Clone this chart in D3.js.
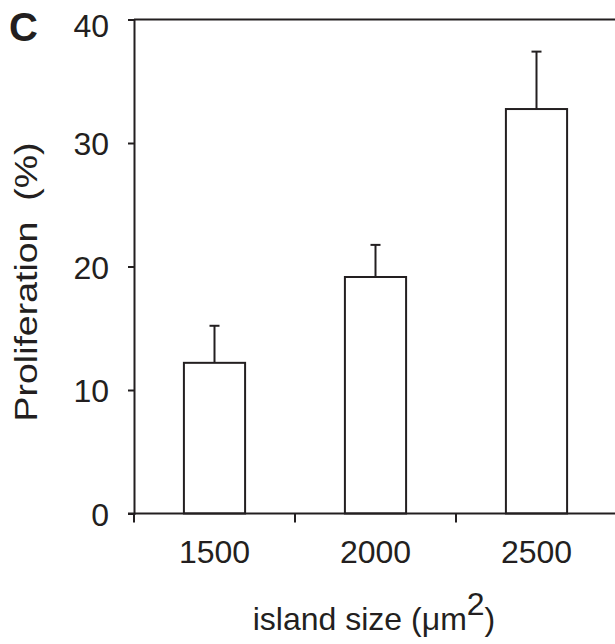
<!DOCTYPE html>
<html>
<head>
<meta charset="utf-8">
<script src="https://cdn.jsdelivr.net/npm/d3@7"></script>
<style>
  body { margin: 0; background: #fff; }
  svg text { font-family: "Liberation Sans", Arial, Helvetica, sans-serif; fill: #231f20; }
</style>
</head>
<body>
<div id="chart"></div>
<script>
// island size categories, mean proliferation and upper error value
const sizes = ["1500", "2000", "2500"];
const proliferation = [12.2, 19.15, 32.75];
const errorTop = [15.2, 21.75, 37.4];
const yTicks = [0, 10, 20, 30, 40];

const W = 615, H = 644;
const margin = { top: 19.5, right: -2, bottom: 130.5, left: 134 };
const width = W - margin.left - margin.right;
const height = H - margin.top - margin.bottom;
const ink = "#231f20";

const svg = d3.select("#chart").append("svg")
    .attr("width", W)
    .attr("height", H);

const g = svg.append("g")
    .attr("transform", `translate(${margin.left},${margin.top})`);

// scales
const x = d3.scaleBand().domain(sizes).range([0, width]).padding(0);
const barPad = 0.62;
const barW = x.bandwidth() * (1 - barPad);
const y = d3.scaleLinear().domain([0, 40]).range([height, 0]);

// top frame line
g.append("line")
    .attr("x1", 0).attr("x2", width)
    .attr("y1", y(40)).attr("y2", y(40))
    .attr("stroke", ink).attr("stroke-width", 2);

// bars
g.selectAll(".bar")
    .data(sizes)
    .enter()
    .append("rect")
    .attr("class", "bar")
    .attr("x", d => x(d) + (x.bandwidth() - barW) / 2)
    .attr("y", (d, i) => y(proliferation[i]))
    .attr("width", barW)
    .attr("height", (d, i) => height - y(proliferation[i]))
    .attr("fill", "#fff")
    .attr("stroke", ink)
    .attr("stroke-width", 2);

// error bars (upper only)
const cx = d => x(d) + x.bandwidth() / 2;
g.selectAll(".err")
    .data(sizes)
    .enter()
    .append("line")
    .attr("class", "err")
    .attr("x1", cx).attr("x2", cx)
    .attr("y1", (d, i) => y(proliferation[i]))
    .attr("y2", (d, i) => y(errorTop[i]))
    .attr("stroke", ink).attr("stroke-width", 2);

g.selectAll(".cap")
    .data(sizes)
    .enter()
    .append("line")
    .attr("class", "cap")
    .attr("x1", d => cx(d) - 5).attr("x2", d => cx(d) + 5)
    .attr("y1", (d, i) => y(errorTop[i]))
    .attr("y2", (d, i) => y(errorTop[i]))
    .attr("stroke", ink).attr("stroke-width", 2);

// y axis
const yAxis = g.append("g")
    .call(d3.axisLeft(y).tickValues(yTicks).tickSize(6).tickPadding(19).tickFormat(d3.format("d")));
yAxis.select(".domain").attr("stroke", ink).attr("stroke-width", 2);
yAxis.selectAll(".tick line").attr("stroke", ink).attr("stroke-width", 2);
yAxis.selectAll(".tick text")
    .attr("font-size", 32)
    .attr("font-family", null)
    .attr("dy", d => d === 40 ? "0.52em" : "0.36em");

// x axis: line, boundary ticks, centered labels
const xAxis = g.append("g")
    .attr("transform", `translate(0,${height})`);
xAxis.append("line")
    .attr("x1", -6).attr("x2", width)
    .attr("stroke", ink).attr("stroke-width", 2);
xAxis.selectAll(".xtick")
    .data(sizes)
    .enter()
    .append("line")
    .attr("class", "xtick")
    .attr("x1", d => x(d)).attr("x2", d => x(d))
    .attr("y1", 0).attr("y2", 9)
    .attr("stroke", ink).attr("stroke-width", 2);
xAxis.selectAll(".xlab")
    .data(sizes)
    .enter()
    .append("text")
    .attr("class", "xlab")
    .attr("x", cx)
    .attr("y", 49)
    .attr("text-anchor", "middle")
    .attr("font-size", 32)
    .text(d => d);

// axis titles
const xTitle = svg.append("text")
    .attr("x", 374)
    .attr("y", 630)
    .attr("text-anchor", "middle")
    .attr("font-size", 32);
xTitle.append("tspan").text("island size (\u03bcm");
xTitle.append("tspan").attr("dy", -15).text("2");
xTitle.append("tspan").attr("dy", 15).text(")");

svg.append("text")
    .attr("transform", "translate(37,282) rotate(-90)")
    .attr("text-anchor", "middle")
    .attr("font-size", 32)
    .attr("textLength", 279)
    .attr("lengthAdjust", "spacingAndGlyphs")
    .style("white-space", "pre")
    .text("Proliferation  (%)");

// panel letter
svg.append("text")
    .attr("x", 9)
    .attr("y", 41)
    .attr("font-size", 40)
    .attr("font-weight", "bold")
    .text("C");
</script>
</body>
</html>
